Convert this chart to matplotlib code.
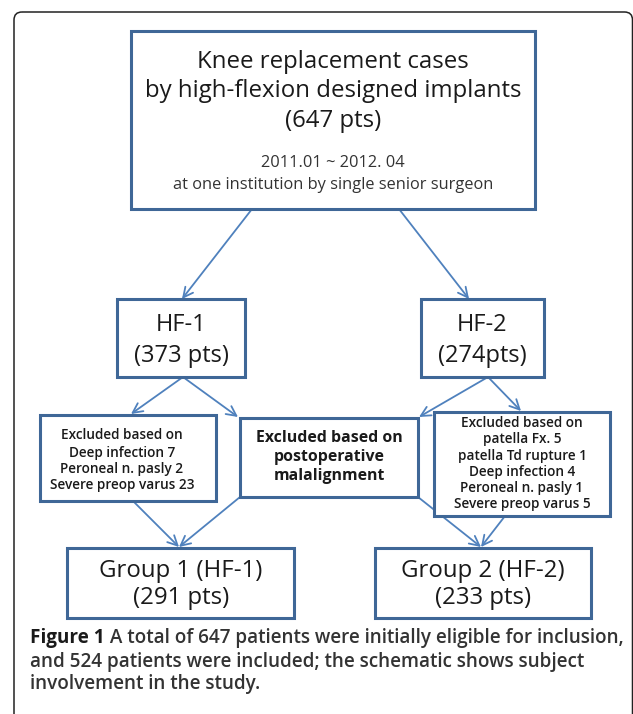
import matplotlib
matplotlib.use("Agg")
import matplotlib.pyplot as plt
from matplotlib import font_manager as fm
from matplotlib.patches import Rectangle, FancyBboxPatch, FancyArrowPatch

W, H = 633, 714
DPI = 100

# ---- content ----
top_title = ["Knee replacement cases", "by high-flexion designed implants", "(647 pts)"]
top_sub = ["2011.01 ~ 2012. 04", "at one institution by single senior surgeon"]
arm_names = ["HF-1", "HF-2"]
arm_counts = ["(373 pts)", "(274pts)"]
excl_left = ["Excluded based on", "Deep infection 7", "Peroneal n. pasly 2", "Severe preop varus 23"]
excl_mid = ["Excluded based on", "postoperative", "malalignment"]
excl_right = ["Excluded based on", "patella Fx. 5", "patella Td rupture 1", "Deep infection 4",
              "Peroneal n. pasly 1", "Severe preop varus 5"]
group_names = ["Group 1 (HF-1)", "Group 2 (HF-2)"]
group_counts = ["(291 pts)", "(233 pts)"]
caption_bold = "Figure 1"
caption_lines = [" A total of 647 patients were initially eligible for inclusion,",
                 "and 524 patients were included; the schematic shows subject",
                 "involvement in the study."]

BOX = "#3f6797"
ARR = "#4f81bd"
TXT = "#1a1a1a"


def wnum(w):
    if isinstance(w, str):
        return fm.weight_dict.get(w, 400)
    return w


def find(fams, weights):
    for fam in fams:
        for f in fm.fontManager.ttflist:
            if f.name == fam and wnum(f.weight) in weights:
                return fam, wnum(f.weight)
    return None


FONT = "Open Sans"
semi = find(["Open Sans", "Noto Sans", "Roboto", "Lato", "Liberation Sans"], (500, 600))
if semi is None:
    SEMI_FAM, SEMI_W = FONT, "bold"
else:
    SEMI_FAM, SEMI_W = semi

fig = plt.figure(figsize=(W / DPI, H / DPI), dpi=DPI)
ax = fig.add_axes([0, 0, 1, 1])
ax.set_xlim(0, W)
ax.set_ylim(H, 0)
ax.axis("off")

# outer frame
frame = FancyBboxPatch((14, 12), 618.5, 720, boxstyle="round,pad=0,rounding_size=8",
                       fill=False, ec="#222222", lw=1.1)
ax.add_patch(frame)


def box(x0, y0, x1, y1, lw=2.2):
    ax.add_patch(Rectangle((x0, y0), x1 - x0, y1 - y0, fill=True, fc="white",
                           ec=BOX, lw=lw, zorder=3))


def arrow(p0, p1):
    a = FancyArrowPatch(p0, p1, arrowstyle="->,head_length=7,head_width=3.5",
                        color=ARR, lw=1.3, shrinkA=0, shrinkB=0, zorder=2,
                        mutation_scale=1)
    ax.add_patch(a)


def lines(xc, ys, texts, size, weight="normal", color=TXT, family=FONT):
    for y, t in zip(ys, texts):
        ax.text(xc, y, t, ha="center", va="center", fontsize=size, family=family,
                weight=weight, color=color, zorder=4)


# top box
box(131, 31, 535, 209)
lines(333, [62, 91, 121], top_title, 17.3)
lines(333, [163, 185], top_sub, 11.75, color="#333333")

# arms
box(117, 299, 245, 377)
box(421, 299, 544, 377)
lines(181, [325, 356], [arm_names[0], arm_counts[0]], 17)
lines(482, [325, 356], [arm_names[1], arm_counts[1]], 17)

arrow((252, 209), (182, 299))
arrow((399, 209), (469, 299))

# exclusion boxes
box(40, 415, 216, 501)
box(240, 418, 418, 497)
box(434, 412, 610, 516)
side_size = 9.85 if SEMI_W != "bold" else 9.2
lines(122, [435, 453, 469, 485], excl_left, side_size, weight=SEMI_W, family=SEMI_FAM)
lines(329, [438, 457, 476], excl_mid, 11.4, weight="bold")
lines(522, [423, 439, 456, 472, 488, 504], excl_right, side_size, weight=SEMI_W, family=SEMI_FAM)

arrow((183, 377), (131, 414))
arrow((183, 377), (238, 417))
arrow((488, 377), (419, 417))
arrow((488, 377), (521, 411))

# group boxes
box(67, 548, 294, 618)
box(375, 548, 591, 618)
lines(181, [571, 598], [group_names[0], group_counts[0]], 17.3)
lines(483, [571, 598], [group_names[1], group_counts[1]], 17.3)

arrow((133, 501), (179, 547))
arrow((240, 497), (179, 547))
arrow((418, 497), (481, 547))
arrow((505, 516), (481, 547))

# caption
CAP = 13.55
cy = [638, 662, 684]
t0 = ax.text(30, cy[0], caption_bold, ha="left", va="center", fontsize=CAP,
             family="Open Sans", weight="bold", color="#1a1a1a")
fig.canvas.draw()
bb = t0.get_window_extent()
inv = ax.transData.inverted()
xd = inv.transform((bb.x1, 0))[0]
ax.text(xd, cy[0], caption_lines[0], ha="left", va="center", fontsize=CAP,
        family=SEMI_FAM, weight=SEMI_W, color="#333333")
for y, t in zip(cy[1:], caption_lines[1:]):
    ax.text(30, y, t, ha="left", va="center", fontsize=CAP,
            family=SEMI_FAM, weight=SEMI_W, color="#333333")

fig.savefig("out.png", dpi=DPI)
